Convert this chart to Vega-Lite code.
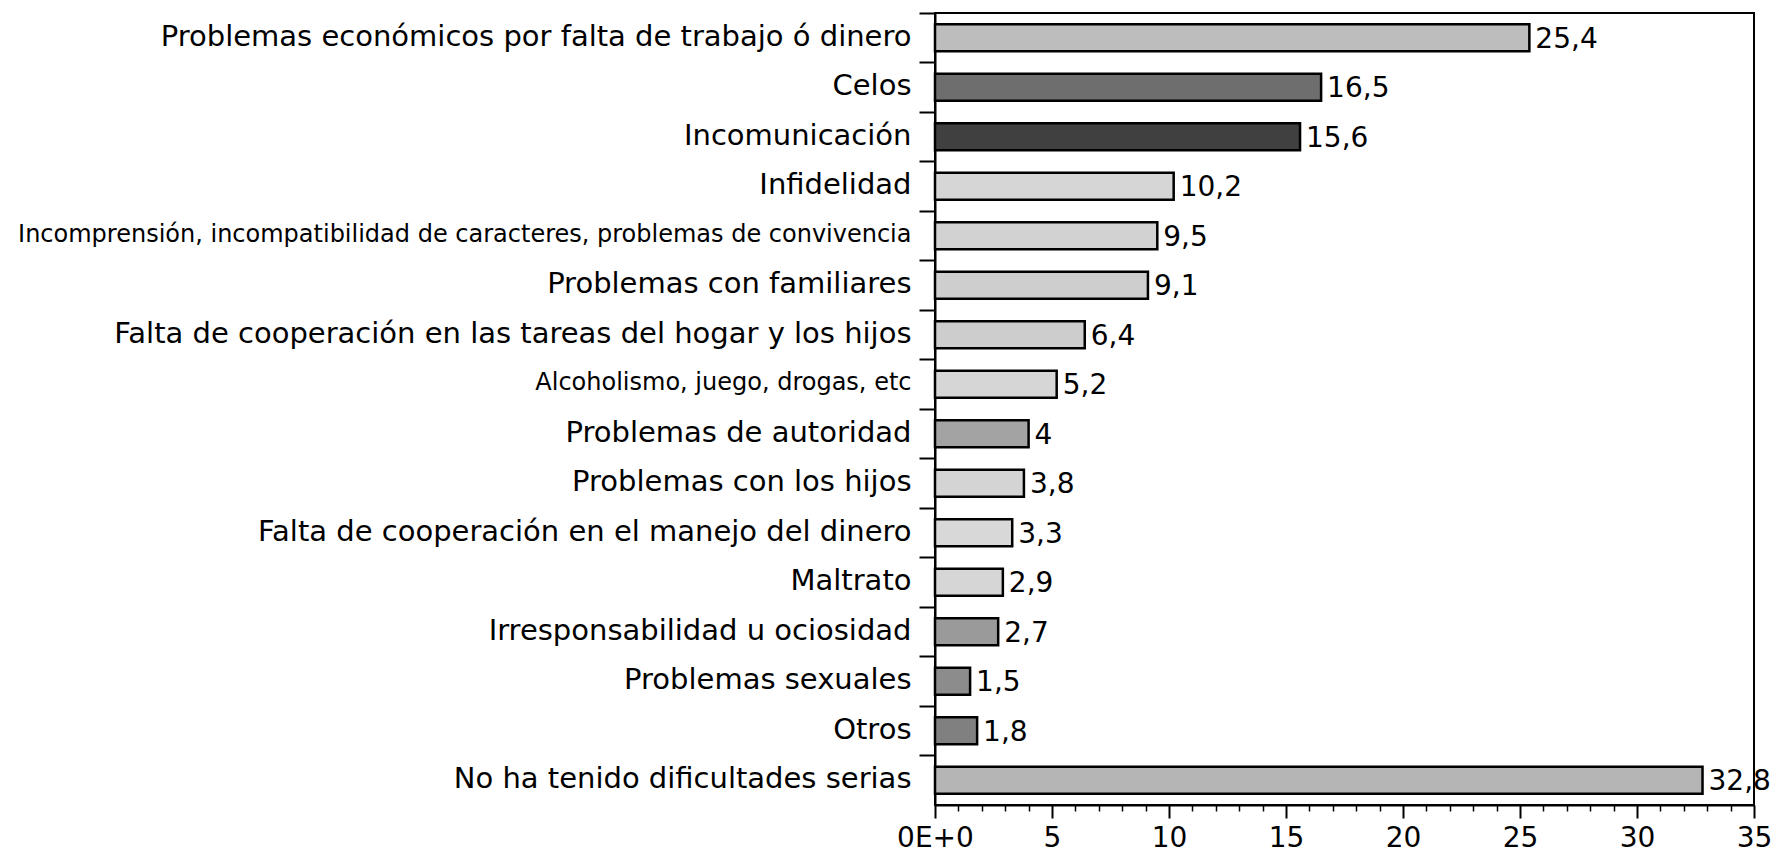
{
  "$schema": "https://vega.github.io/schema/vega-lite/v6.json",
  "width": 819,
  "height": 792,
  "autosize": {"type": "none"},
  "padding": {"left": 935, "top": 13, "right": 22, "bottom": 49},
  "background": "white",
  "config": {
    "locale": {"number": {"decimal": ",", "thousands": ".", "grouping": [3], "currency": ["", " €"]}},
    "view": {"stroke": "black", "strokeWidth": 2},
    "font": "DejaVu Sans"
  },
  "data": {
    "values": [
      {"causa": "Problemas económicos por falta de trabajo ó dinero", "valor": 25.4},
      {"causa": "Celos", "valor": 16.5},
      {"causa": "Incomunicación", "valor": 15.6},
      {"causa": "Infidelidad", "valor": 10.2},
      {"causa": "Incomprensión, incompatibilidad de caracteres,  problemas de convivencia", "valor": 9.5},
      {"causa": "Problemas con familiares", "valor": 9.1},
      {"causa": "Falta de cooperación en las tareas del hogar y los hijos", "valor": 6.4},
      {"causa": "Alcoholismo, juego, drogas, etc", "valor": 5.2},
      {"causa": "Problemas de autoridad", "valor": 4},
      {"causa": "Problemas con los hijos", "valor": 3.8},
      {"causa": "Falta de cooperación en el manejo del dinero", "valor": 3.3},
      {"causa": "Maltrato", "valor": 2.9},
      {"causa": "Irresponsabilidad u ociosidad", "valor": 2.7},
      {"causa": "Problemas sexuales", "valor": 1.5},
      {"causa": "Otros", "valor": 1.8},
      {"causa": "No ha tenido dificultades serias", "valor": 32.8}
    ]
  },
  "encoding": {
    "y": {
      "field": "causa", "type": "nominal", "sort": null,
      "scale": {"paddingInner": 0, "paddingOuter": 0},
      "axis": {
        "title": null, "bandPosition": 0, "tickSize": 16, "tickWidth": 2, "tickColor": "black",
        "domainColor": "black", "domainWidth": 2, "labelPadding": 8, "labelLimit": 0,
        "labelColor": "black", "labelFont": "DejaVu Sans", "labelOffset": -1,
        "labelFontSize": {
          "condition": {"test": "datum.value === 'Incomprensión, incompatibilidad de caracteres,  problemas de convivencia' || datum.value === 'Alcoholismo, juego, drogas, etc'", "value": 24},
          "value": 29
        }
      }
    },
    "x": {
      "field": "valor", "type": "quantitative",
      "scale": {"domain": [0, 35], "nice": false, "zero": true},
      "axis": {
        "title": null, "orient": "bottom",
        "values": [0, 1, 2, 3, 4, 5, 6, 7, 8, 9, 10, 11, 12, 13, 14, 15, 16, 17, 18, 19, 20, 21, 22, 23, 24, 25, 26, 27, 28, 29, 30, 31, 32, 33, 34, 35],
        "grid": false,
        "tickSize": {"condition": {"test": "indexof([0, 5, 10, 15, 20, 25, 30, 35], round(datum.value)) >= 0", "value": 13}, "value": 6},
        "tickWidth": {"condition": {"test": "indexof([0, 5, 10, 15, 20, 25, 30, 35], round(datum.value)) >= 0", "value": 2}, "value": 1.5},
        "tickColor": "black", "domainColor": "black", "domainWidth": 2,
        "labelFontSize": 28, "labelFont": "DejaVu Sans", "labelColor": "black", "labelPadding": 6,
        "labelFlush": false, "labelOverlap": false, "labelBound": false,
        "labelExpr": "indexof([0, 5, 10, 15, 20, 25, 30, 35], round(datum.value)) >= 0 ? (round(datum.value) === 0 ? '0E+0' : datum.label) : ''"
      }
    }
  },
  "layer": [
    {
      "mark": {"type": "bar", "height": {"band": 0.55}, "stroke": "black", "strokeWidth": 2.5},
      "encoding": {
        "color": {
          "field": "causa", "type": "nominal", "legend": null,
          "scale": {
            "domain": [
              "Problemas económicos por falta de trabajo ó dinero", "Celos", "Incomunicación", "Infidelidad",
              "Incomprensión, incompatibilidad de caracteres,  problemas de convivencia", "Problemas con familiares",
              "Falta de cooperación en las tareas del hogar y los hijos", "Alcoholismo, juego, drogas, etc",
              "Problemas de autoridad", "Problemas con los hijos", "Falta de cooperación en el manejo del dinero",
              "Maltrato", "Irresponsabilidad u ociosidad", "Problemas sexuales", "Otros", "No ha tenido dificultades serias"
            ],
            "range": [
              "#bdbdbd", "#6e6e6e", "#404040", "#d6d6d6", "#d2d2d2", "#cecece", "#cdcdcd", "#d6d6d6",
              "#a3a3a3", "#d4d4d4", "#d8d8d8", "#d6d6d6", "#9a9a9a", "#8c8c8c", "#808080", "#b5b5b5"
            ]
          }
        }
      }
    },
    {
      "mark": {"type": "text", "align": "left", "baseline": "middle", "dx": 6, "dy": 2, "fontSize": 28, "font": "DejaVu Sans", "color": "black"},
      "encoding": {
        "text": {"field": "valor", "type": "quantitative", "format": "~g"}
      }
    }
  ]
}
